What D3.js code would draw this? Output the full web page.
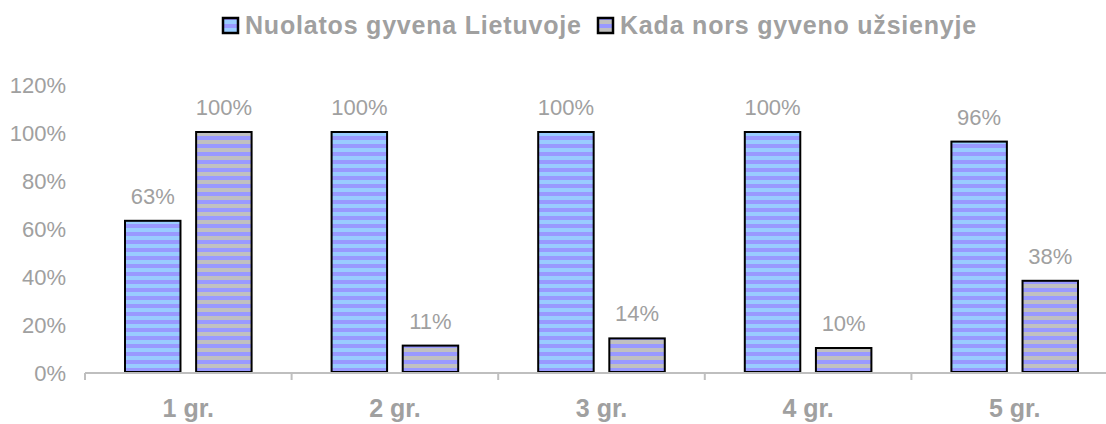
<!DOCTYPE html>
<html><head><meta charset="utf-8">
<script src="https://cdn.jsdelivr.net/npm/d3@7"></script>
<style>body{margin:0;background:#fff}svg{display:block}</style>
</head><body>
<svg id="c" width="1106" height="424"></svg>
<script>
const categories = ["1 gr.", "2 gr.", "3 gr.", "4 gr.", "5 gr."];
const seriesNames = ["Nuolatos gyvena Lietuvoje", "Kada nors gyveno užsienyje"];
const seriesLives = [63, 100, 100, 100, 96];
const seriesAbroad = [100, 11, 14, 10, 38];
const yTicks = [0, 20, 40, 60, 80, 100, 120];

const svg = d3.select("#c");
const font = "'Liberation Sans', Arial, sans-serif";
const grey = "#a0a0a0";

const defs = svg.append("defs");
const pats = [["p0", "#99ccff", "#9999ff"], ["p1", "#c0c0c0", "#9999ff"]];
pats.forEach(([id, a, b]) => {
  const p = defs.append("pattern").attr("id", id).attr("patternUnits", "userSpaceOnUse")
    .attr("width", 8).attr("height", 8);
  p.append("rect").attr("width", 8).attr("height", 4).attr("fill", b);
  p.append("rect").attr("y", 4).attr("width", 8).attr("height", 4).attr("fill", a);
});

const x0 = d3.scaleBand().domain(categories).range([85, 1118]).paddingInner(0).paddingOuter(0);
const x1 = d3.scaleBand().domain([0, 1]).range([40, x0.bandwidth() - 40]).paddingInner(0.22);
const y = d3.scaleLinear().domain([0, 120]).range([372, 84]);

// y tick labels
svg.append("g").selectAll("text").data(yTicks).join("text")
  .attr("x", 66).attr("y", d => y(d)).attr("dy", "0.42em")
  .attr("text-anchor", "end").attr("font-family", font).attr("font-size", 22)
  .attr("fill", grey).text(d => d + "%");

// bars
const series = [seriesLives, seriesAbroad];
series.forEach((vals, si) => {
  const g = svg.append("g");
  g.selectAll("rect").data(vals).join("rect")
    .attr("x", (d, i) => x0(categories[i]) + x1(si))
    .attr("y", d => y(d))
    .attr("width", x1.bandwidth())
    .attr("height", d => y(0) - y(d))
    .attr("fill", `url(#p${si})`)
    .attr("stroke", "#000").attr("stroke-width", 2);
  g.selectAll("text").data(vals).join("text")
    .attr("x", (d, i) => x0(categories[i]) + x1(si) + x1.bandwidth() / 2)
    .attr("y", d => y(d) - 17)
    .attr("text-anchor", "middle").attr("font-family", font).attr("font-size", 22)
    .attr("fill", grey).text(d => d + "%");
});

// x axis
const ax = svg.append("g");
ax.append("line").attr("x1", 85).attr("x2", 1118).attr("y1", 373).attr("y2", 373)
  .attr("stroke", "#bfbfbf").attr("stroke-width", 2);
ax.selectAll("line.t").data(categories).join("line").attr("class", "t")
  .attr("x1", d => x0(d)).attr("x2", d => x0(d)).attr("y1", 373).attr("y2", 380)
  .attr("stroke", "#bfbfbf").attr("stroke-width", 2);
ax.selectAll("text").data(categories).join("text")
  .attr("x", d => x0(d) + x0.bandwidth() / 2).attr("y", 417)
  .attr("text-anchor", "middle").attr("font-family", font).attr("font-size", 25)
  .attr("font-weight", "bold").attr("fill", grey).text(d => d);

// legend
const leg = svg.append("g");
const lx = [223, 598];
seriesNames.forEach((n, i) => {
  leg.append("rect").attr("x", lx[i]).attr("y", 18).attr("width", 15).attr("height", 15)
    .attr("fill", `url(#p${i})`).attr("stroke", "#000").attr("stroke-width", 2.5);
  leg.append("text").attr("x", lx[i] + 22).attr("y", 34).attr("font-family", font)
    .attr("font-size", 25).attr("letter-spacing", 0.8).attr("font-weight", "bold")
    .attr("fill", grey).text(n);
});
</script>
</body></html>
